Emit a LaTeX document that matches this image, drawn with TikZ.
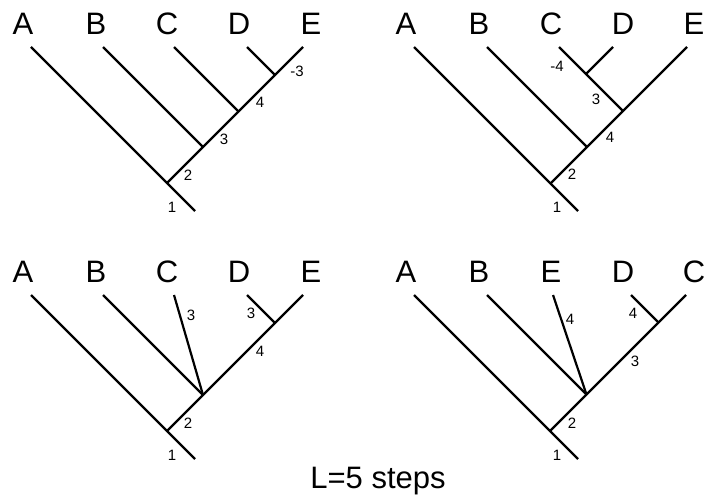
\documentclass[tikz,border=0pt]{standalone}
\usepackage{fontspec}
\setmainfont{Liberation Sans}
\usetikzlibrary{positioning}
\tikzset{
  taxon/.style={font=\fontsize{31}{37}\selectfont,inner sep=0pt},
  stepno/.style={font=\fontsize{15}{18}\selectfont,inner sep=0pt},
  totlbl/.style={font=\fontsize{31}{37}\selectfont,inner sep=0pt,anchor=base},
  branch/.style={line width=2.2pt}
}

\begin{document}
\begin{tikzpicture}[x=1pt,y=-1pt]
  \useasboundingbox (0,0) rectangle (704,495);

  % Tree 1: ((((D,E),C),B),A)
  \begin{scope}
    \foreach \t/\x in {A/23,B/96,C/167,D/239,E/311}
      \node[taxon] (lbl\t1) at (\x,23.5) {\t};
    \coordinate (tipA1) at (31,47);
    \coordinate (tipB1) at (103,47);
    \coordinate (tipC1) at (174,47);
    \coordinate (tipD1) at (247,47);
    \coordinate (tipE1) at (303,47);
    \coordinate (root1) at (167,183);
    \coordinate (stem1) at (195,211);
    \coordinate (jB1) at (203,147);
    \coordinate (jC1) at (238.5,111.5);
    \coordinate (jD1) at (275,75);
    \draw[branch] (tipA1) -- (stem1);
    \draw[branch] (tipE1) -- (root1);
    \draw[branch] (tipB1) -- (jB1);
    \draw[branch] (tipC1) -- (jC1);
    \draw[branch] (tipD1) -- (jD1);
    % step numbers
    \node[stepno] (s11) at (172,207) {1};
    \node[stepno] (s12) at (188,175) {2};
    \node[stepno] (s13) at (224,139) {3};
    \node[stepno] (s14) at (260,102) {4};
    \node[stepno] (s15) at (297,71) {-3};
  \end{scope}

  % Tree 2: ((((C,D),E),B),A)
  \begin{scope}[shift={(383,0)}]
    \foreach \t/\x in {A/23,B/96,C/168,D/240,E/311}
      \node[taxon] (lbl\t2) at (\x,23.5) {\t};
    \coordinate (tipA2) at (31,47);
    \coordinate (tipB2) at (104,47);
    \coordinate (tipC2) at (176,47);
    \coordinate (tipD2) at (230,47);
    \coordinate (tipE2) at (304,47);
    \coordinate (root2) at (167.5,183.5);
    \coordinate (stem2) at (195,211);
    \coordinate (jB2) at (204,147);
    \coordinate (jC2) at (240,111);
    \coordinate (jD2) at (203,74);
    \draw[branch] (tipA2) -- (stem2);
    \draw[branch] (tipE2) -- (root2);
    \draw[branch] (tipB2) -- (jB2);
    \draw[branch] (tipC2) -- (jC2);
    \draw[branch] (tipD2) -- (jD2);
    % step numbers
    \node[stepno] (s21) at (174,207) {1};
    \node[stepno] (s22) at (189,174) {2};
    \node[stepno] (s23) at (227,137) {4};
    \node[stepno] (s24) at (213,99) {3};
    \node[stepno] (s25) at (174,66) {-4};
  \end{scope}

  % Tree 3: B and C on one node
  \begin{scope}[shift={(0,248)}]
    \foreach \t/\x in {A/23,B/96,C/167,D/239,E/311}
      \node[taxon] (lbl\t3) at (\x,23.5) {\t};
    \coordinate (tipA3) at (31,47);
    \coordinate (tipB3) at (103,47);
    \coordinate (tipC3) at (174,47);
    \coordinate (tipD3) at (247,47);
    \coordinate (tipE3) at (303,47);
    \coordinate (root3) at (167,183);
    \coordinate (stem3) at (195,211);
    \coordinate (jB3) at (203,147);
    \coordinate (jD3) at (275,75);
    \draw[branch] (tipA3) -- (stem3);
    \draw[branch] (tipE3) -- (root3);
    \draw[branch] (tipB3) -- (jB3);
    \draw[branch] (tipC3) -- (jB3);
    \draw[branch] (tipD3) -- (jD3);
    % step numbers
    \node[stepno] (s31) at (172,207) {1};
    \node[stepno] (s32) at (188,175) {2};
    \node[stepno] (s33) at (260,103) {4};
    \node[stepno] (s34) at (191,67) {3};
    \node[stepno] (s35) at (251,65) {3};
  \end{scope}

  % Tree 4: B and E on one node
  \begin{scope}[shift={(383,248)}]
    \foreach \t/\x in {A/23,B/96,E/168,D/240,C/311}
      \node[taxon] (lbl\t4) at (\x,23.5) {\t};
    \coordinate (tipA4) at (31,47);
    \coordinate (tipB4) at (104,47);
    \coordinate (tipE4) at (170,47);
    \coordinate (tipD4) at (248,47);
    \coordinate (tipC4) at (303,47);
    \coordinate (root4) at (167,183);
    \coordinate (stem4) at (195,211);
    \coordinate (jB4) at (203.5,146.5);
    \coordinate (jD4) at (275.5,74.5);
    \draw[branch] (tipA4) -- (stem4);
    \draw[branch] (tipC4) -- (root4);
    \draw[branch] (tipB4) -- (jB4);
    \draw[branch] (tipE4) -- (jB4);
    \draw[branch] (tipD4) -- (jD4);
    % step numbers
    \node[stepno] (s41) at (174,207) {1};
    \node[stepno] (s42) at (189,175) {2};
    \node[stepno] (s43) at (252,113) {3};
    \node[stepno] (s44) at (187,71) {4};
    \node[stepno] (s45) at (250,65) {4};
  \end{scope}

  % Tree length
  \node[totlbl] (total) at (378,488) {L=5 steps};
\end{tikzpicture}
\end{document}
